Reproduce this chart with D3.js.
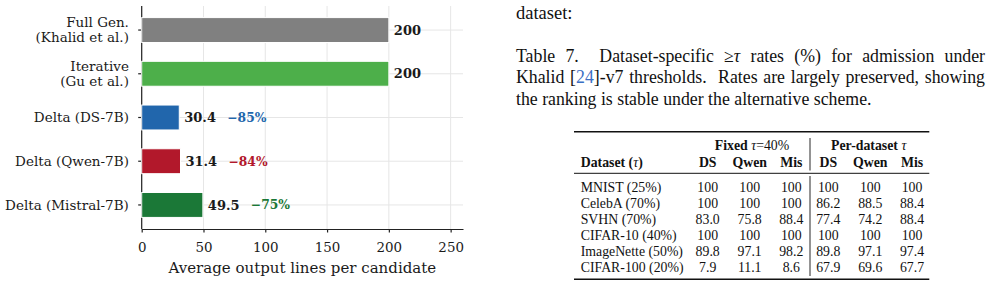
<!DOCTYPE html>
<html lang="en">
<head>
<meta charset="UTF-8">
<title>Output lines per candidate + Table 7</title>
<script src="https://d3js.org/d3.v7.min.js"></script>
<style>
  body { margin: 0; background: #fff; }
  #page { position: relative; width: 995px; height: 306px; overflow: hidden; }
  svg { position: absolute; left: 0; top: 0; }
  .chart text { font-family: "DejaVu Serif", serif; fill: #1a1a1a; }
  .grid line { stroke: #e6e6e6; stroke-width: 1; }
  .axis path, .axis line { stroke: #222; stroke-width: 1.2; }
  .body-text { position: absolute; font-family: "Liberation Serif", "Times New Roman", serif; color: #111;
               white-space: nowrap; line-height: 21.5px; }
  .cap-line { position: absolute; left: 516px; width: 469px; font-family: "Liberation Serif", "Times New Roman", serif;
              font-size: 17.8px; line-height: 21.5px; color: #111; white-space: nowrap; }
  .justify { text-align: justify; text-align-last: justify; }
  .tbl text { font-family: "Liberation Serif", "Times New Roman", serif; font-size: 13.8px; fill: #111; }
</style>
</head>
<body>
<div id="page"></div>
<script>
// ---- bar chart data ----
const categories = ["Full Gen.\n(Khalid et al.)", "Iterative\n(Gu et al.)", "Delta (DS-7B)", "Delta (Qwen-7B)", "Delta (Mistral-7B)"];
const values = [200, 200, 30.4, 31.4, 49.5];
const reductions = ["", "", "\u221285%", "\u221284%", "\u221275%"];
const barColors = ["#808080", "#4daf4a", "#2166ac", "#b2182b", "#1b7837"];
const xTicks = [0, 50, 100, 150, 200, 250];

// ---- table data ----
const datasets = ["MNIST (25%)", "CelebA (70%)", "SVHN (70%)", "CIFAR-10 (40%)", "ImageNette (50%)", "CIFAR-100 (20%)"];
const fixedDS   = ["100", "100", "83.0", "100", "89.8", "7.9"];
const fixedQwen = ["100", "100", "75.8", "100", "97.1", "11.1"];
const fixedMis  = ["100", "100", "88.4", "100", "98.2", "8.6"];
const perDS     = ["100", "86.2", "77.4", "100", "89.8", "67.9"];
const perQwen   = ["100", "88.5", "74.2", "100", "97.1", "69.6"];
const perMis    = ["100", "88.4", "88.4", "100", "97.4", "67.7"];
const colNames  = ["DS", "Qwen", "Mis", "DS", "Qwen", "Mis"];

const page = d3.select("#page");
const svg = page.append("svg").attr("width", 995).attr("height", 306);

// ================= chart =================
const chart = svg.append("g").attr("class", "chart");
const plot = {left: 141.7, right: 463, top: 6, bottom: 229};

const x = d3.scaleLinear().domain([0, 260]).range([plot.left, plot.right]);
const y = d3.scaleBand().domain(categories).range([plot.top, plot.bottom])
    .paddingInner(0.43).paddingOuter(0.265);

// grid
const grid = chart.append("g").attr("class", "grid");
grid.selectAll(".vg").data(xTicks).join("line")
    .attr("x1", d => x(d)).attr("x2", d => x(d))
    .attr("y1", plot.top).attr("y2", plot.bottom);
grid.selectAll(".hg").data(categories).join("line")
    .attr("x1", plot.left).attr("x2", plot.right)
    .attr("y1", d => y(d) + y.bandwidth() / 2).attr("y2", d => y(d) + y.bandwidth() / 2);

// x axis
const xAxis = chart.append("g").attr("class", "axis")
    .attr("transform", `translate(0,${plot.bottom})`)
    .call(d3.axisBottom(x).tickValues(xTicks).tickSize(3.5).tickSizeOuter(0).tickPadding(9.5));
xAxis.selectAll("text").attr("font-size", 13.4).attr("font-family", "DejaVu Serif");

chart.append("text")
    .attr("x", (plot.left + plot.right) / 2)
    .attr("y", 273)
    .attr("text-anchor", "middle")
    .attr("font-size", 15)
    .text("Average output lines per candidate");

// y axis
const yAxis = chart.append("g").attr("class", "axis")
    .attr("transform", `translate(${plot.left},0)`)
    .call(d3.axisLeft(y).tickSize(3.5).tickSizeOuter(0).tickPadding(9));
yAxis.select(".domain").attr("d", `M0,${plot.top}V${plot.bottom}`);
yAxis.selectAll("text")
    .attr("font-size", 13.5).attr("font-family", "DejaVu Serif")
    .each(function(d) {
        const lines = d.split("\n");
        const t = d3.select(this).text(null).attr("dy", null);
        const lh = 15;
        lines.forEach((ln, i) => {
            t.append("tspan").attr("x", -12.8)
                .attr("y", (i - (lines.length - 1) / 2) * lh)
                .attr("dy", "0.35em")
                .text(ln);
        });
    });

// bars
chart.append("g").selectAll("rect").data(categories).join("rect")
    .attr("x", x(0))
    .attr("y", d => y(d))
    .attr("width", (d, i) => x(values[i]) - x(0))
    .attr("height", y.bandwidth())
    .attr("fill", (d, i) => barColors[i])
    .attr("stroke", "#fff").attr("stroke-width", 1);

// value labels
chart.append("g").selectAll("text").data(categories).join("text")
    .attr("x", (d, i) => x(values[i]) + 5)
    .attr("y", d => y(d) + y.bandwidth() / 2)
    .attr("dy", "0.36em")
    .attr("font-size", 13).attr("font-weight", "bold")
    .text((d, i) => String(values[i]));

// reduction labels
chart.append("g").selectAll("text").data(categories.filter((d, i) => reductions[i])).join("text")
    .attr("x", d => x(values[categories.indexOf(d)]) + 48)
    .attr("y", d => y(d) + y.bandwidth() / 2)
    .attr("dy", "0.36em")
    .attr("font-size", 12.3).attr("font-weight", "bold")
    .style("fill", d => barColors[categories.indexOf(d)])
    .text(d => reductions[categories.indexOf(d)]);

// ================= body text + caption =================
page.append("div").attr("class", "body-text")
    .style("left", "516px").style("top", "2.5px").style("font-size", "18.5px")
    .text("dataset:");

const capTops = [45.9, 67.4, 88.9];
page.append("div").attr("class", "cap-line justify").style("top", capTops[0] + "px")
    .html('Table 7.&nbsp; Dataset-specific &ge;<i>&tau;</i> rates (%) for admission under');
page.append("div").attr("class", "cap-line justify").style("top", capTops[1] + "px")
    .html('Khalid [<span style="color:#3a6fc4">24</span>]-v7 thresholds.&nbsp; Rates are largely preserved, showing');
page.append("div").attr("class", "cap-line").style("top", capTops[2] + "px")
    .text("the ranking is stable under the alternative scheme.");

// ================= table =================
const tbl = svg.append("g").attr("class", "tbl");
const tLeft = 574, tRight = 929.3;
const colX = d3.scaleOrdinal().domain(d3.range(6)).range([707.7, 749.7, 791.3, 828.3, 870.3, 912]);
const rowY = d3.scalePoint().domain(datasets).range([191.5, 271.5]);
const columns = [fixedDS, fixedQwen, fixedMis, perDS, perQwen, perMis];

// rules
tbl.append("line").attr("x1", tLeft).attr("x2", tRight).attr("y1", 131.7).attr("y2", 131.7)
    .attr("stroke", "#111").attr("stroke-width", 1.6);
tbl.append("line").attr("x1", tLeft).attr("x2", tRight).attr("y1", 173.3).attr("y2", 173.3)
    .attr("stroke", "#111").attr("stroke-width", 1);
tbl.append("line").attr("x1", tLeft).attr("x2", tRight).attr("y1", 279.3).attr("y2", 279.3)
    .attr("stroke", "#111").attr("stroke-width", 1.6);
tbl.append("line").attr("x1", 810).attr("x2", 810).attr("y1", 138).attr("y2", 170.5)
    .attr("stroke", "#111").attr("stroke-width", 0.9);
tbl.append("line").attr("x1", 810).attr("x2", 810).attr("y1", 176).attr("y2", 276)
    .attr("stroke", "#111").attr("stroke-width", 0.9);

// group headers
const h1 = tbl.append("text").attr("x", 752).attr("y", 149.8).attr("text-anchor", "middle");
h1.append("tspan").attr("font-weight", "bold").text("Fixed ");
h1.append("tspan").attr("font-style", "italic").text("\u03C4");
h1.append("tspan").text("=40%");
const h2 = tbl.append("text").attr("x", 868.7).attr("y", 149.8).attr("text-anchor", "middle");
h2.append("tspan").attr("font-weight", "bold").text("Per-dataset ");
h2.append("tspan").attr("font-style", "italic").text("\u03C4");

// column headers
const h3 = tbl.append("text").attr("x", 580.7).attr("y", 166.5);
h3.append("tspan").attr("font-weight", "bold").text("Dataset (");
h3.append("tspan").attr("font-style", "italic").text("\u03C4");
h3.append("tspan").attr("font-weight", "bold").text(")");
tbl.append("g").selectAll("text").data(colNames).join("text")
    .attr("x", (d, i) => colX(i)).attr("y", 166.5)
    .attr("text-anchor", "middle").attr("font-weight", "bold")
    .text(d => d);

// body rows
tbl.append("g").selectAll("text").data(datasets).join("text")
    .attr("x", 580.7).attr("y", d => rowY(d))
    .text(d => d);
columns.forEach((col, ci) => {
    tbl.append("g").selectAll("text").data(col).join("text")
        .attr("x", colX(ci))
        .attr("y", (d, ri) => rowY(datasets[ri]))
        .attr("text-anchor", "middle")
        .text(d => d);
});
</script>
</body>
</html>
